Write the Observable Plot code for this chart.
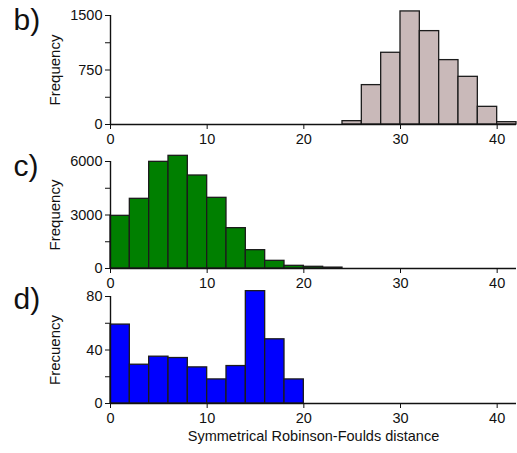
<!DOCTYPE html>
<html><head><meta charset="utf-8">
<script src="https://cdn.jsdelivr.net/npm/d3@7"></script>
<script src="https://cdn.jsdelivr.net/npm/@observablehq/plot@0.6"></script>
<style>
html,body{margin:0;padding:0;background:#fff;}
#chart{width:517px;}
#chart svg{display:block;overflow:visible;background:transparent;}
</style></head><body><div id="chart"></div>
<script>
// bin start values (bin width 2)
const binStart = [0,2,4,6,8,10,12,14,16,18,20,22,24,26,28,30,32,34,36,38,40];
const binWidth = 2;
const xTicks = [0,10,20,30,40];

// panel b
const valuesB = [0,0,0,0,0,0,0,0,0,0,0,0,46,542,987,1556,1285,886,656,243,32];
const yTicksB = [0,750,1500];
const yMinorB = [375,1125];
// panel c
const valuesC = [2953,3907,5981,6318,5215,3963,2262,1028,430,150,95,50,0,0,0,0,0,0,0,0,0];
const yTicksC = [0,3000,6000];
const yMinorC = [1500,4500];
// panel d
const valuesD = [59,29,35,34,27,18,28,84,48,18,0,0,0,0,0,0,0,0,0,0,0];
const yTicksD = [0,40,80];
const yMinorD = [20,60];

const panelLabels = ["b)","c)","d)"];
const yLabels = ["Frequency","Frequency","Frecuency"];
const xLabel = "Symmetrical Robinson-Foulds distance";

const font = "'Liberation Sans', Arial, Helvetica, sans-serif";

function panel({label, ylabel, values, fill, ticks, minor, height, marginTop, marginBottom, labelDy, xlab}) {
  const data = binStart.map((x0, i) => ({x0, x1: x0 + binWidth, y: values[i]})).filter(d => d.y > 0);
  const yMax = ticks[ticks.length - 1];
  const marks = [
    Plot.rectY(data, {x1: "x0", x2: "x1", y: "y", fill, stroke: "#1c1c1c", strokeWidth: 1.3}),
    Plot.ruleY([0], {stroke: "#111", strokeWidth: 1.4}),
    Plot.ruleX([0], {y1: 0, y2: yMax, stroke: "#111", strokeWidth: 1.4}),
    Plot.axisX({ticks: xTicks, tickSize: 5, tickPadding: 4, tickFormat: d => String(d), label: null, stroke: "#111"}),
    Plot.axisY({ticks, tickSize: 5, tickPadding: 3, tickFormat: d => String(d), label: null, stroke: "#111"}),
    Plot.axisY({ticks: minor, tickSize: 5, tickFormat: () => "", label: null, stroke: "#111"}),
    Plot.text([ylabel], {frameAnchor: "left", dx: -55, rotate: -90, textAnchor: "middle", lineAnchor: "middle", fontSize: 15, fill: "#111"}),
    Plot.text([label], {frameAnchor: "top-left", dx: -97, dy: labelDy, textAnchor: "start", lineAnchor: "bottom", fontSize: 30, fill: "#111"})
  ];
  if (xlab) marks.push(Plot.text([xlab], {frameAnchor: "bottom", dy: 33, textAnchor: "middle", lineAnchor: "middle", fontSize: 14.5, fill: "#111"}));
  return Plot.plot({
    width: 517, height,
    marginLeft: 110, marginRight: 1, marginTop, marginBottom,
    style: {fontFamily: font, fontSize: "14.5px", color: "#111", background: "transparent", overflow: "visible"},
    x: {domain: [0, 42]},
    y: {domain: [0, yMax]},
    marks
  });
}

const el = document.getElementById("chart");
el.append(panel({label: panelLabels[0], ylabel: yLabels[0], values: valuesB, fill: "#c9b9b9", ticks: yTicksB, minor: yMinorB, height: 148, marginTop: 15, marginBottom: 24, labelDy: 14}));
el.append(panel({label: panelLabels[1], ylabel: yLabels[1], values: valuesC, fill: "#007f00", ticks: yTicksC, minor: yMinorC, height: 141, marginTop: 13, marginBottom: 21, labelDy: 14}));
el.append(panel({label: panelLabels[2], ylabel: yLabels[2], values: valuesD, fill: "#0000ff", ticks: yTicksD, minor: yMinorD, height: 164, marginTop: 7, marginBottom: 50, labelDy: 12, xlab: xLabel}));
</script>
</body></html>
